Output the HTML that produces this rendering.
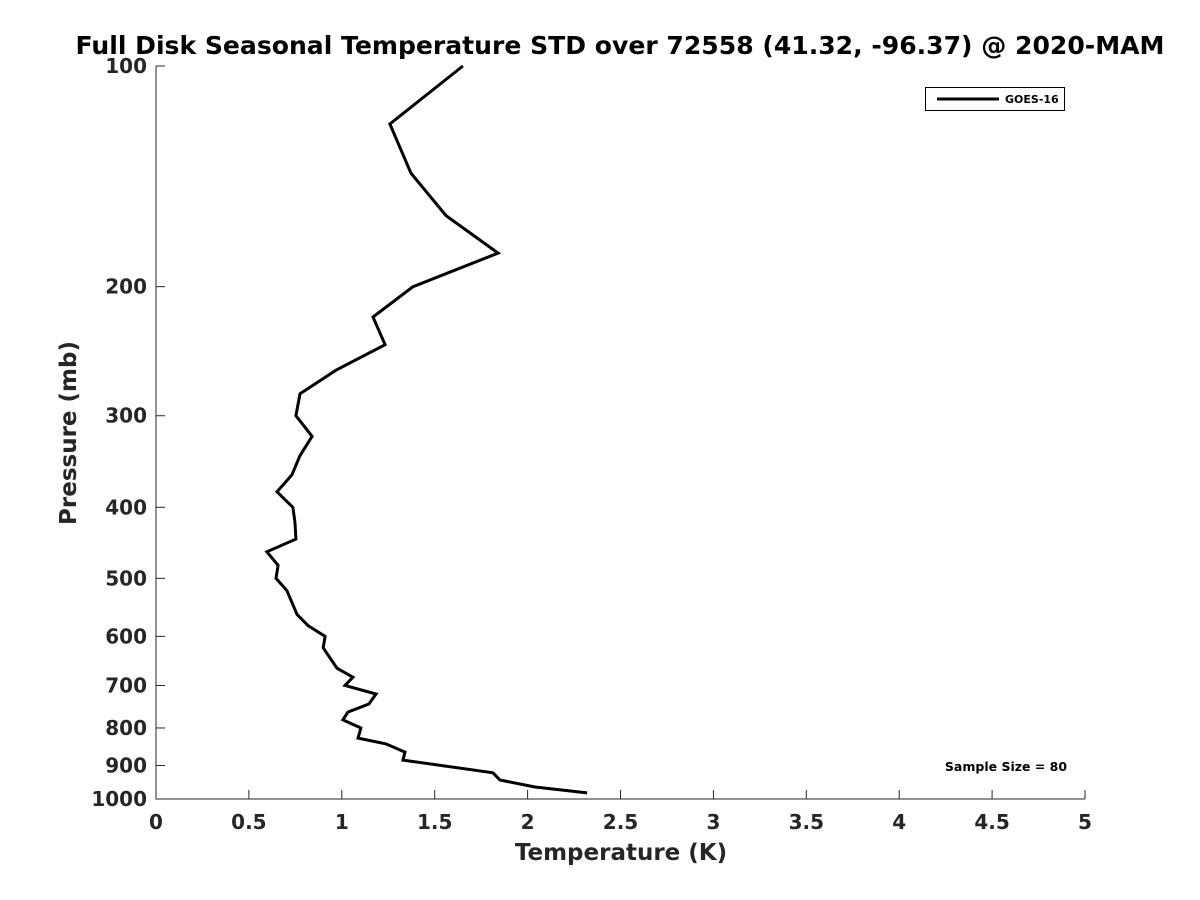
<!DOCTYPE html>
<html><head><meta charset="utf-8"><style>
html,body{margin:0;padding:0;background:#fff;}
svg{display:block;font-family:"DejaVu Sans","Liberation Sans",sans-serif;font-weight:bold;}
</style></head><body>
<svg id="chart" width="1200" height="900">
<text x="620" y="54" text-anchor="middle" font-size="25" textLength="1089" lengthAdjust="spacingAndGlyphs" fill="#000">Full Disk Seasonal Temperature STD over 72558 (41.32, -96.37) @ 2020-MAM</text>
<g id="axes"></g>
<text x="621" y="860" text-anchor="middle" font-size="23" fill="#262626">Temperature (K)</text>
<text transform="translate(76,433) rotate(-90)" text-anchor="middle" font-size="23" fill="#262626">Pressure (mb)</text>
<g>
<rect x="925.5" y="87.5" width="139" height="23" fill="#fff" stroke="#000" stroke-width="1"/>
<line x1="937" y1="99" x2="999" y2="99" stroke="#000" stroke-width="3"/>
<text x="1005" y="103" font-size="11" fill="#000">GOES-16</text>
</g>
<text x="1006" y="771" text-anchor="middle" font-size="12.5" fill="#000">Sample Size = 80</text>
</svg>
<script>
const temps = [1.652,1.259,1.372,1.561,1.841,1.383,1.168,1.233,0.969,0.775,0.753,0.840,0.775,0.732,0.651,0.737,0.748,0.753,0.597,0.657,0.646,0.705,0.759,0.818,0.910,0.900,0.974,1.060,1.017,1.184,1.146,1.033,1.006,1.103,1.087,1.238,1.340,1.329,1.814,1.851,2.040,2.320];
const pressures = [100,120,140,160,180,200,220,240,260,280,300,320,340,361,381,400,420,442,460,480,500,520,560,580,600,622,663,682,700,719,742,761,780,800,826,841,863,885,921,942,963,981];
const xTicks = [0,0.5,1,1.5,2,2.5,3,3.5,4,4.5,5];
const yTicks = [100,200,300,400,500,600,700,800,900,1000];
const X0=156,X1=1085,Y0=66,Y1=799;
function xs(v){return X0+(v-0)/(5-0)*(X1-X0);}
function ys(p){return Y0+(Math.log10(p)-2)/(3-2)*(Y1-Y0);}
const NS="http://www.w3.org/2000/svg";
const g=document.getElementById('axes');
function mk(t,a){const e=document.createElementNS(NS,t);for(const k in a)e.setAttribute(k,a[k]);g.appendChild(e);return e;}
let e=mk('line',{x1:X0,y1:Y0,x2:X0,y2:Y1+0.5,stroke:'#262626','stroke-width':1});


e=mk('line',{x1:X0,y1:Y1,x2:X1,y2:Y1,stroke:'#262626','stroke-width':1});


xTicks.forEach(v=>{
 const x=xs(v);
 let t=mk('line',{x1:x,y1:Y1,x2:x,y2:Y1-9,stroke:'#262626','stroke-width':1});
 
 
 let l=mk('text',{x:x,y:Y1+30,'text-anchor':'middle','font-size':20,fill:'#262626'});
 l.textContent=String(v);
 
 
});
yTicks.forEach(v=>{
 const y=ys(v);
 let t=mk('line',{x1:X0,y1:y,x2:X0+9,y2:y,stroke:'#262626','stroke-width':1});
 
 
 let l=mk('text',{x:X0-9,y:y+7,'text-anchor':'end','font-size':20,fill:'#262626'});
 l.textContent=String(v);
 
 
});
const pts=temps.map((t,i)=>xs(t).toFixed(1)+','+ys(pressures[i]).toFixed(1)).join(' ');
const pl=mk('polyline',{points:pts,fill:'none',stroke:'#000','stroke-width':3,'stroke-linejoin':'miter'});


</script>
</body></html>
